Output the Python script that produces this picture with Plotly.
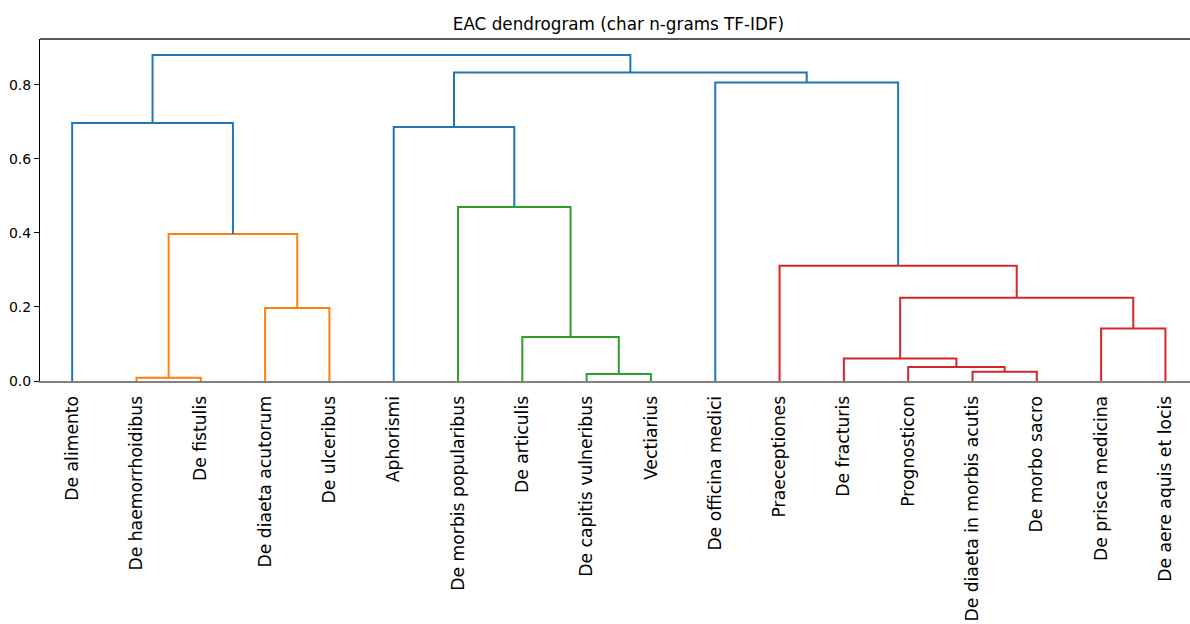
import plotly.graph_objects as go

# Leaf labels in dendrogram order (left to right)
leaf_labels = [
    "De alimento", "De haemorrhoidibus", "De fistulis", "De diaeta acutorum",
    "De ulceribus", "Aphorismi", "De morbis popularibus", "De articulis",
    "De capitis vulneribus", "Vectiarius", "De officina medici", "Praeceptiones",
    "De fracturis", "Prognosticon", "De diaeta in morbis acutis", "De morbo sacro",
    "De prisca medicina", "De aere aquis et locis",
]

# Linkage: node ids 0..17 are leaves, each merge creates node 18, 19, ...
merge_left = [1, 3, 18, 0, 8, 7, 6, 5, 14, 13, 12, 16, 28, 11, 10, 25, 21]
merge_right = [2, 4, 19, 20, 9, 22, 23, 24, 15, 26, 27, 17, 29, 30, 31, 32, 33]
merge_height = [0.009, 0.197, 0.397, 0.697, 0.019, 0.119, 0.470, 0.686,
                0.025, 0.038, 0.061, 0.142, 0.225, 0.311, 0.806, 0.833, 0.880]
merge_cluster = ["C1", "C1", "C1", "C0", "C2", "C2", "C2", "C0",
                 "C3", "C3", "C3", "C3", "C3", "C3", "C0", "C0", "C0"]

palette = {"C0": "#1f77b4", "C1": "#ff7f0e", "C2": "#2ca02c", "C3": "#d62728"}

n_leaves = len(leaf_labels)
node_x = [5 + 10 * i for i in range(n_leaves)]
node_h = [0.0] * n_leaves

fig = go.Figure()
for a, b, h, c in zip(merge_left, merge_right, merge_height, merge_cluster):
    xa, xb = node_x[a], node_x[b]
    ya, yb = node_h[a], node_h[b]
    fig.add_trace(go.Scatter(
        x=[xa, xa, xb, xb], y=[ya, h, h, yb], mode="lines",
        line=dict(color=palette[c], width=2), hoverinfo="skip", showlegend=False,
    ))
    node_x.append((xa + xb) / 2)
    node_h.append(h)

px_per_unit = 64.31 / 10
left_px = 40
x_max = (1190 - left_px) / px_per_unit

fig.update_layout(
    width=1190, height=624,
    margin=dict(l=left_px, r=0, t=39, b=243),
    paper_bgcolor="white", plot_bgcolor="white",
    font=dict(family="DejaVu Sans", color="black"),
    title=dict(text="EAC dendrogram (char n-grams TF-IDF)", font=dict(size=16.8),
               x=618.5 / 1190, xref="container", xanchor="center",
               y=1 - 24 / 624, yref="container", yanchor="middle"),
    xaxis=dict(range=[0, x_max], tickmode="array",
               tickvals=[5 + 10 * i for i in range(n_leaves)], ticktext=leaf_labels,
               tickangle=-90, tickfont=dict(size=17.2),
               ticks="outside", ticklen=6, tickcolor="rgba(0,0,0,0)",
               showgrid=False, zeroline=False,
               showline=True, linecolor="#808080", linewidth=2),
    yaxis=dict(range=[0, 0.9235], tickmode="array",
               tickvals=[0, 0.2, 0.4, 0.6, 0.8], ticktext=["0.0", "0.2", "0.4", "0.6", "0.8"],
               tickfont=dict(size=14), ticks="outside", ticklen=5, tickwidth=1,
               tickcolor="black", showgrid=False, zeroline=False,
               showline=True, linecolor="black", linewidth=1),
    shapes=[dict(type="line", xref="paper", yref="paper", x0=0, x1=1, y0=1, y1=1,
                 line=dict(color="#222222", width=1.5))],
)

fig.write_html("out.html")
